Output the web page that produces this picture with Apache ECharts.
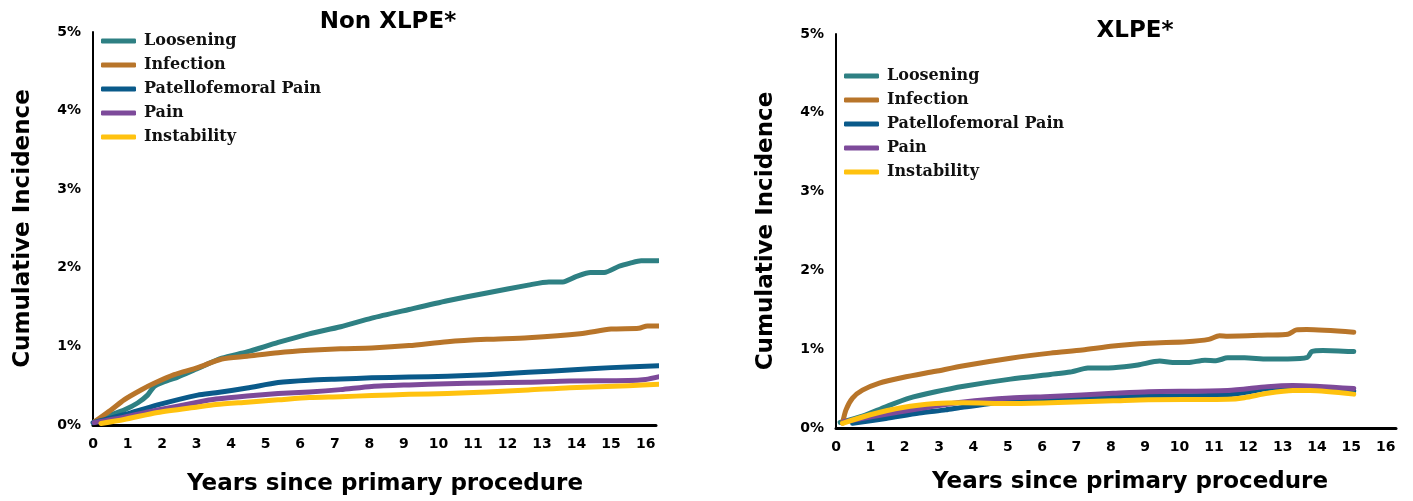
<!DOCTYPE html>
<html>
<head>
<meta charset="utf-8">
<script src="https://cdn.jsdelivr.net/npm/echarts@6/dist/echarts.min.js"></script>
<style>
html,body{margin:0;padding:0;background:#fff;}
#chart{width:1413px;height:501px;}
</style>
</head>
<body>
<div id="chart"></div>
<script>
// ---- Data (x = years since primary procedure, y = cumulative incidence %) ----
const seriesNames = ['Loosening', 'Infection', 'Patellofemoral Pain', 'Pain', 'Instability'];
const seriesColors = ['#2e8083', '#b8752a', '#0a5a8a', '#7d4a9a', '#ffc20f'];
const yTickLabels = ['0%', '1%', '2%', '3%', '4%', '5%'];
const titles = ['Non XLPE*', 'XLPE*'];

// Non XLPE
const nonLoosening = [[0.04,0.04],[0.52,0.13],[0.90,0.19],[1.29,0.28],[1.58,0.38],[1.77,0.49],[2.06,0.55],[2.45,0.61],[3.03,0.72],[3.73,0.85],[4.46,0.93],[5.36,1.05],[6.26,1.16],[7.17,1.25],[8.07,1.36],[9.15,1.47],[10.26,1.58],[11.4,1.68],[12.6,1.78],[13.2,1.82],[13.6,1.82],[14.0,1.89],[14.4,1.94],[14.8,1.94],[15.23,2.02],[15.55,2.06],[15.87,2.09],[16.36,2.09]];
const nonInfection = [[0.04,0.04],[0.52,0.19],[0.90,0.32],[1.39,0.445],[1.77,0.53],[2.35,0.64],[3.03,0.73],[3.73,0.84],[4.46,0.875],[5.36,0.92],[6.26,0.95],[7.17,0.97],[8.07,0.98],[9.15,1.01],[10.26,1.06],[11.4,1.09],[12.6,1.11],[14.1,1.16],[15.0,1.22],[15.8,1.23],[16.05,1.26],[16.5,1.26]];
const nonPatello = [[0.0,0.03],[0.90,0.13],[1.87,0.255],[3.03,0.38],[3.56,0.41],[4.46,0.47],[5.36,0.54],[6.26,0.57],[7.17,0.585],[8.07,0.60],[9.15,0.61],[10.26,0.62],[11.4,0.64],[12.6,0.67],[13.8,0.70],[15.0,0.73],[16.4,0.755]];
const nonPain = [[0.03,0.03],[0.90,0.10],[1.87,0.19],[3.03,0.29],[3.56,0.33],[4.46,0.37],[5.36,0.40],[6.26,0.42],[7.17,0.45],[8.07,0.49],[9.15,0.51],[10.26,0.525],[11.4,0.535],[12.6,0.545],[13.8,0.56],[15.5,0.565],[16.0,0.58],[16.4,0.615]];
const nonInstability = [[0.23,0.02],[0.90,0.07],[1.87,0.16],[3.03,0.23],[3.56,0.26],[4.46,0.29],[5.36,0.32],[6.26,0.35],[7.17,0.36],[8.07,0.375],[9.15,0.39],[10.26,0.40],[11.4,0.42],[12.6,0.445],[13.8,0.475],[15.5,0.50],[16.4,0.52]];

// XLPE
const xlLoosening = [[0.12,0.07],[0.77,0.15],[1.45,0.27],[2.13,0.38],[2.9,0.46],[3.72,0.53],[5.08,0.62],[6.24,0.68],[6.82,0.71],[7.33,0.76],[8.07,0.765],[8.79,0.80],[9.42,0.85],[9.8,0.83],[10.24,0.83],[10.74,0.86],[11.06,0.855],[11.4,0.89],[11.89,0.89],[12.56,0.875],[13.15,0.875],[13.72,0.895],[13.85,0.97],[14.17,0.985],[15.07,0.97]];
const xlInfection = [[0.19,0.06],[0.29,0.23],[0.48,0.38],[0.77,0.48],[1.26,0.57],[1.94,0.64],[2.9,0.72],[3.72,0.79],[5.08,0.885],[6.24,0.95],[7.17,0.99],[8.07,1.04],[9.1,1.075],[10.2,1.095],[10.85,1.125],[11.16,1.17],[11.4,1.165],[12.56,1.18],[13.15,1.19],[13.4,1.245],[13.7,1.25],[15.07,1.215]];
const xlPatello = [[0.48,0.06],[1.45,0.12],[2.42,0.19],[3.19,0.23],[3.72,0.265],[5.08,0.335],[7.17,0.375],[9.1,0.405],[11.4,0.42],[11.89,0.45],[12.56,0.50],[13.3,0.525],[13.8,0.515],[15.07,0.47]];
const xlPain = [[0.23,0.08],[1.79,0.20],[2.76,0.27],[3.72,0.33],[5.08,0.38],[6.24,0.40],[8.07,0.44],[9.1,0.46],[11.4,0.475],[12.56,0.525],[13.3,0.54],[15.07,0.50]];
const xlInstability = [[0.19,0.06],[0.97,0.165],[1.94,0.26],[2.9,0.31],[3.72,0.32],[5.08,0.31],[6.24,0.32],[8.07,0.345],[9.1,0.36],[11.4,0.365],[11.89,0.385],[12.56,0.44],[13.3,0.475],[13.8,0.475],[15.07,0.43]];

const panels = [
  [nonLoosening, nonInfection, nonPatello, nonPain, nonInstability],
  [xlLoosening, xlInfection, xlPatello, xlPain, xlInstability]
];

// ---- Chart ----
const heavy = 'DejaVu Sans';
const grids = [
  {left: 93, top: 32, width: 563, height: 393},
  {left: 836, top: 34, width: 560, height: 394}
];
const xNameGap = [48, 43];
const xNamePad = [21, 28];

const xAxes = grids.map((g, i) => ({
  type: 'value', gridIndex: i, min: 0, max: 16.3, interval: 1,
  axisLine: {show: true, lineStyle: {color: '#000', width: 3}},
  axisTick: {show: false},
  splitLine: {show: false},
  axisLabel: {
    showMaxLabel: false, margin: 12, color: '#000',
    fontFamily: heavy, fontWeight: 'bold', fontSize: 14,
    formatter: v => Number.isInteger(v) ? String(v) : ''
  },
  name: 'Years since primary procedure', nameLocation: 'middle', nameGap: xNameGap[i],
  nameTextStyle: {fontFamily: heavy, fontWeight: 'bold', fontSize: 23, color: '#000', padding: [0, 0, 0, xNamePad[i]]}
}));

const yAxes = grids.map((g, i) => ({
  type: 'value', gridIndex: i, min: 0, max: 5, interval: 1,
  axisLine: {show: true, lineStyle: {color: '#000', width: 2}},
  axisTick: {show: false},
  splitLine: {show: false},
  axisLabel: {
    margin: 12, color: '#000', fontFamily: heavy, fontWeight: 'bold', fontSize: 14,
    formatter: v => yTickLabels[v]
  },
  name: 'Cumulative Incidence', nameLocation: 'middle', nameGap: 58,
  nameTextStyle: {fontFamily: heavy, fontWeight: 'bold', fontSize: 23, color: '#000'}
}));

const series = [];
panels.forEach((sets, p) => {
  sets.forEach((data, k) => {
    series.push({
      name: seriesNames[k], type: 'line', xAxisIndex: p, yAxisIndex: p,
      data: data, smooth: 0.25, showSymbol: false, symbol: 'none', clip: false,
      lineStyle: {color: seriesColors[k], width: 5, cap: 'round', join: 'round'},
      itemStyle: {color: seriesColors[k]},
      emphasis: {disabled: true}
    });
  });
});

const legendBase = {
  orient: 'vertical', itemWidth: 35, itemHeight: 5, itemGap: 6, icon: 'roundRect', padding: 0,
  data: seriesNames,
  textStyle: {fontFamily: 'DejaVu Serif', fontWeight: 'bold', fontSize: 16, color: '#111', lineHeight: 18, padding: [0, 0, 0, 3]}
};

const option = {
  animation: false,
  backgroundColor: '#fff',
  color: seriesColors,
  title: [
    {text: titles[0], left: 383, top: 6, textAlign: 'center',
     textStyle: {fontFamily: heavy, fontWeight: 'bold', fontSize: 23, color: '#000'}},
    {text: titles[1], left: 1130, top: 15, textAlign: 'center',
     textStyle: {fontFamily: heavy, fontWeight: 'bold', fontSize: 23, color: '#000'}}
  ],
  legend: [
    Object.assign({}, legendBase, {left: 101, top: 32}),
    Object.assign({}, legendBase, {left: 844, top: 67})
  ],
  grid: grids,
  xAxis: xAxes,
  yAxis: yAxes,
  series: series
};

const chart = echarts.init(document.getElementById('chart'), null, {renderer: 'canvas'});
chart.setOption(option);
</script>
</body>
</html>
